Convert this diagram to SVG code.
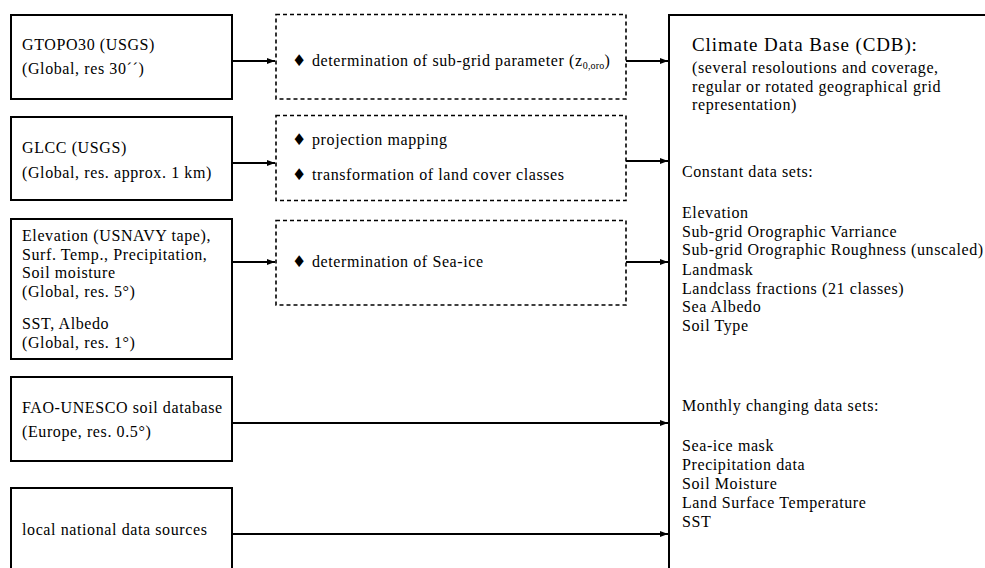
<svg xmlns="http://www.w3.org/2000/svg" width="985" height="568" viewBox="0 0 985 568">
<defs>
<style>
.box{fill:#fff;stroke:#000;stroke-width:2}
.dash{fill:#fff;stroke:#000;stroke-width:1.6;stroke-dasharray:4 3}
.t{font-family:"Liberation Serif","Times New Roman",serif;font-size:16px;letter-spacing:0.6px;fill:#000}
.title{font-family:"Liberation Serif","Times New Roman",serif;font-size:19px;letter-spacing:0.9px;fill:#000}
.sub{font-size:10px;letter-spacing:0.2px}
.bul{font-family:"DejaVu Sans",sans-serif;font-size:16px;fill:#000}
.con{stroke:#000;stroke-width:1.8;fill:none;marker-end:url(#ah)}
</style>
<marker id="ah" viewBox="0 0 8 6" refX="8" refY="3" markerWidth="8" markerHeight="6" markerUnits="userSpaceOnUse" orient="auto">
<path d="M0,0 L8,3 L0,6 z" fill="#000"/>
</marker>
</defs>
<rect width="985" height="568" fill="#fff"/>

<g id="gtopo">
<rect class="box" x="11" y="15" width="221" height="84"/>
<text class="t" x="22" y="50">GTOPO30 (USGS)</text>
<text class="t" x="22" y="74">(Global, res 30´´)</text>
</g>
<g id="glcc">
<rect class="box" x="11" y="117" width="221" height="83"/>
<text class="t" x="22" y="153">GLCC (USGS)</text>
<text class="t" x="22" y="178">(Global, res. approx. 1 km)</text>
</g>
<g id="usnavy">
<rect class="box" x="11" y="219" width="221" height="140"/>
<text class="t" x="22" y="241">Elevation (USNAVY tape),</text>
<text class="t" x="22" y="259.5">Surf. Temp., Precipitation,</text>
<text class="t" x="22" y="278">Soil moisture</text>
<text class="t" x="22" y="296.5">(Global, res. 5°)</text>
<text class="t" x="22" y="329">SST, Albedo</text>
<text class="t" x="22" y="347.5">(Global, res. 1°)</text>
</g>
<g id="fao">
<rect class="box" x="11" y="377" width="221" height="84"/>
<text class="t" x="22" y="413">FAO-UNESCO soil database</text>
<text class="t" x="22" y="437">(Europe, res. 0.5°)</text>
</g>
<g id="local">
<path class="box" d="M11,575 V488 H232 V575"/>
<text class="t" x="22" y="535">local national data sources</text>
</g>

<g id="proc1">
<rect class="dash" x="276" y="14.5" width="350" height="84.5"/>
<text class="bul" x="292" y="66">♦</text>
<text class="t" x="312" y="66">determination of sub-grid parameter (z<tspan class="sub" dy="3">0,oro</tspan><tspan dy="-3">)</tspan></text>
</g>
<g id="proc2">
<rect class="dash" x="276" y="115.5" width="350" height="85"/>
<text class="bul" x="292" y="145">♦</text>
<text class="t" x="312" y="145">projection mapping</text>
<text class="bul" x="292" y="180">♦</text>
<text class="t" x="312" y="180">transformation of land cover classes</text>
</g>
<g id="proc3">
<rect class="dash" x="276" y="220.5" width="350" height="84.5"/>
<text class="bul" x="292" y="267">♦</text>
<text class="t" x="312" y="267">determination of Sea-ice</text>
</g>

<g id="cdb">
<path class="box" d="M990,15 H669 V575"/>
<text class="title" x="692" y="51">Climate Data Base (CDB):</text>
<text class="t" x="692" y="73">(several resoloutions and coverage,</text>
<text class="t" x="692" y="92">regular or rotated geographical grid</text>
<text class="t" x="692" y="110">representation)</text>
<text class="t" x="682" y="177">Constant data sets:</text>
<text class="t" x="682" y="218">Elevation</text>
<text class="t" x="682" y="237">Sub-grid Orographic Varriance</text>
<text class="t" x="682" y="255">Sub-grid Orographic Roughness (unscaled)</text>
<text class="t" x="682" y="275">Landmask</text>
<text class="t" x="682" y="294">Landclass fractions (21 classes)</text>
<text class="t" x="682" y="312">Sea Albedo</text>
<text class="t" x="682" y="331">Soil Type</text>
<text class="t" x="682" y="411">Monthly changing data sets:</text>
<text class="t" x="682" y="451">Sea-ice mask</text>
<text class="t" x="682" y="470">Precipitation data</text>
<text class="t" x="682" y="489">Soil Moisture</text>
<text class="t" x="682" y="508">Land Surface Temperature</text>
<text class="t" x="682" y="527">SST</text>
</g>

<g id="connectors">
<line class="con" x1="232" y1="61" x2="275" y2="61"/>
<line class="con" x1="232" y1="163" x2="275" y2="163"/>
<line class="con" x1="232" y1="262" x2="275" y2="262"/>
<line class="con" x1="626" y1="61" x2="668" y2="61"/>
<line class="con" x1="626" y1="161" x2="668" y2="161"/>
<line class="con" x1="626" y1="262" x2="668" y2="262"/>
<line class="con" x1="232" y1="423" x2="668" y2="423"/>
<line class="con" x1="232" y1="534" x2="668" y2="534"/>
</g>
</svg>
